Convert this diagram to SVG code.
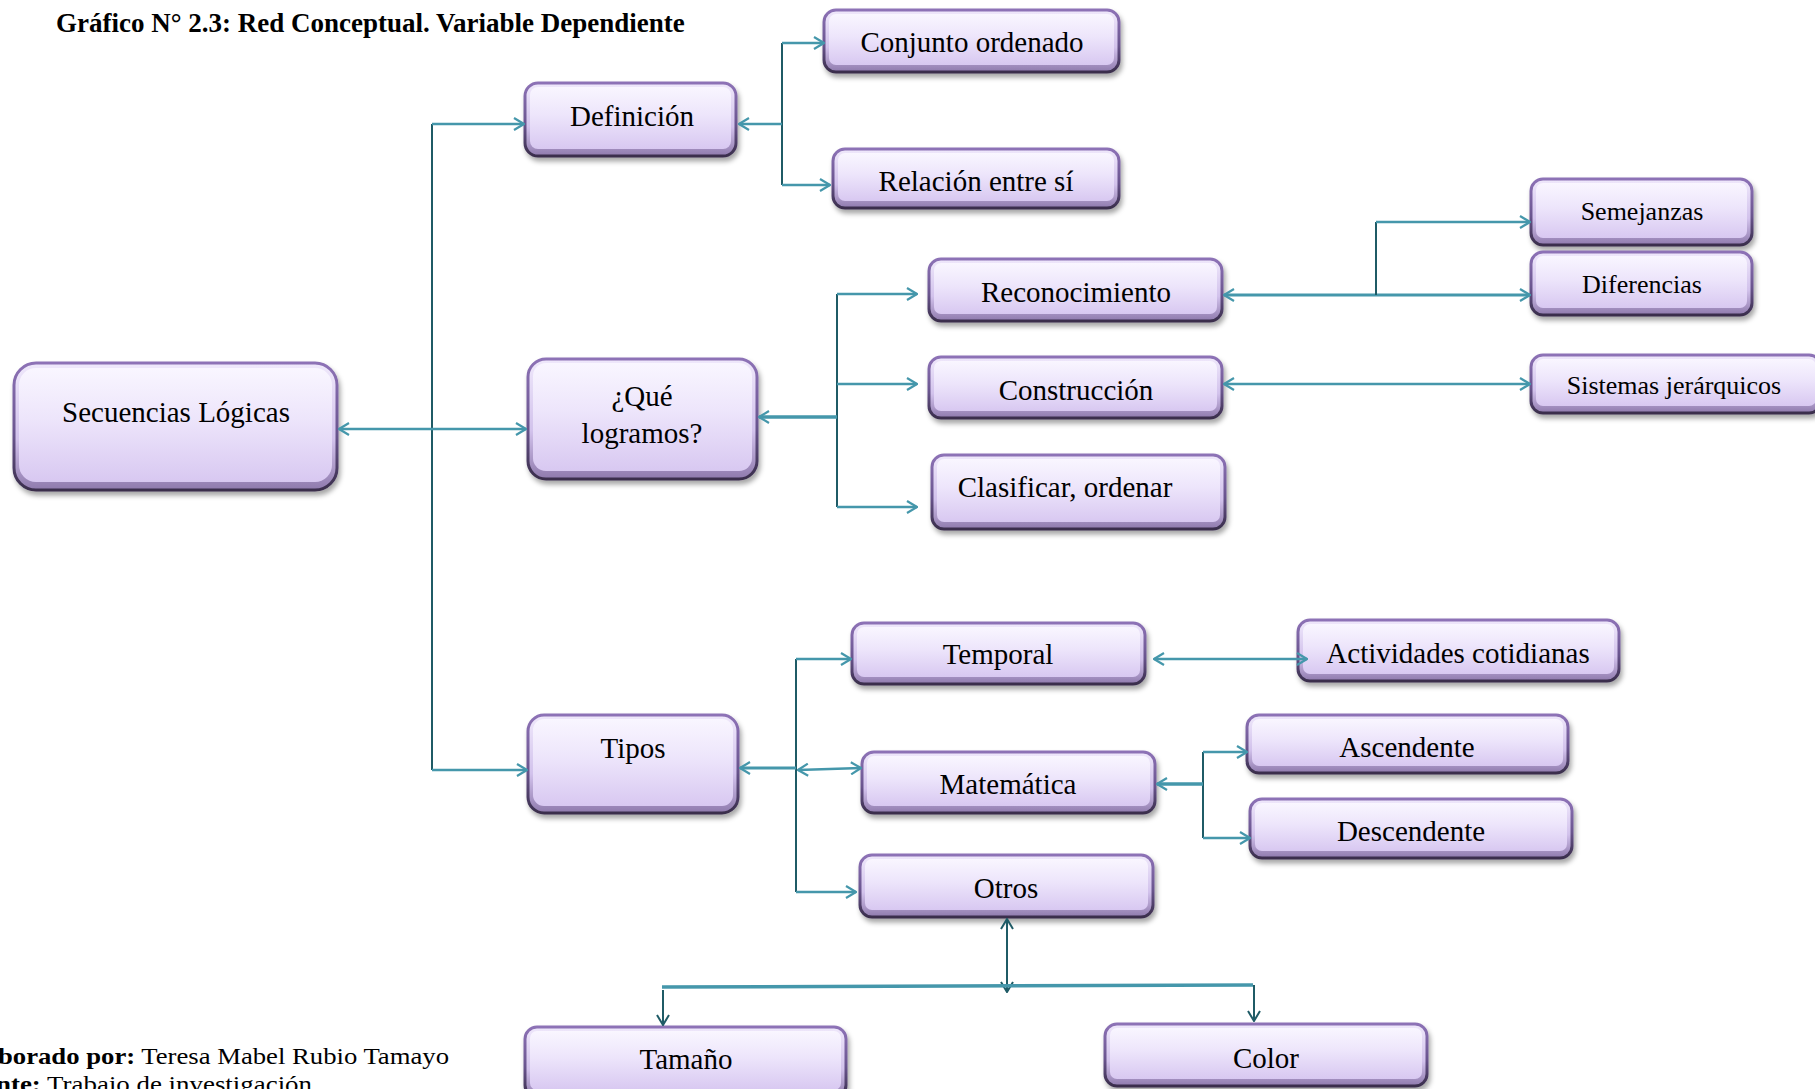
<svg xmlns="http://www.w3.org/2000/svg" width="1815" height="1089" viewBox="0 0 1815 1089">
<defs>
<linearGradient id="outerG" x1="0" y1="0" x2="0" y2="1">
<stop offset="0" stop-color="#efe8fb"/>
<stop offset="0.6" stop-color="#d2c2ec"/>
<stop offset="1" stop-color="#8f7aad"/>
</linearGradient>
<linearGradient id="fillG" x1="0" y1="0" x2="0" y2="1">
<stop offset="0" stop-color="#f9f6ff"/>
<stop offset="0.45" stop-color="#ede5fb"/>
<stop offset="1" stop-color="#d8c8f1"/>
</linearGradient>
<linearGradient id="strokeG" x1="0" y1="0" x2="0" y2="1">
<stop offset="0" stop-color="#8d72b6"/>
<stop offset="0.55" stop-color="#6b5690"/>
<stop offset="1" stop-color="#3a2e4c"/>
</linearGradient>
<filter id="sh" x="-10%" y="-20%" width="130%" height="170%">
<feDropShadow dx="2" dy="4" stdDeviation="2.5" flood-color="#000" flood-opacity="0.35"/>
</filter>
<marker id="ah" viewBox="0 0 12 14" refX="11" refY="7" markerWidth="12" markerHeight="14" markerUnits="userSpaceOnUse" orient="auto-start-reverse">
<path d="M1,1 L11,7 L1,13" fill="none" stroke="#4597ab" stroke-width="2.2"/>
</marker>
<marker id="ahd" viewBox="0 0 12 14" refX="11" refY="7" markerWidth="12" markerHeight="14" markerUnits="userSpaceOnUse" orient="auto-start-reverse">
<path d="M1,1 L11,7 L1,13" fill="none" stroke="#1f5b66" stroke-width="2"/>
</marker>
</defs>
<style>
.box{fill:url(#outerG);stroke:url(#strokeG);stroke-width:3;filter:url(#sh)}
.in{fill:url(#fillG);stroke:none}
.t{font-family:"Liberation Serif","Times New Roman",serif;font-size:29px;fill:#000;text-anchor:middle}
.ts{font-family:"Liberation Serif","Times New Roman",serif;font-size:26px;fill:#000;text-anchor:middle}
.h{fill:none;stroke:#4597ab;stroke-width:2.5}
.v{fill:none;stroke:#1f5b66;stroke-width:2}
.title{font-family:"Liberation Serif","Times New Roman",serif;font-size:27px;font-weight:bold;fill:#000}
.foot{font-family:"Liberation Serif","Times New Roman",serif;font-size:24px;fill:#000}
</style>
<rect width="1815" height="1089" fill="#ffffff"/>
<text class="title" x="56" y="32">Gráfico N° 2.3: Red Conceptual. Variable Dependiente</text>

<g id="n-secuencias"><rect class="box" x="14" y="363" width="323" height="127" rx="22"/><rect class="in" x="19" y="368" width="313" height="114" rx="17"/><text class="t" x="176" y="422">Secuencias Lógicas</text></g>
<g id="n-definicion"><rect class="box" x="525" y="83" width="211" height="73" rx="13"/><rect class="in" x="530" y="87" width="201" height="62" rx="8"/><text class="t" x="632" y="126">Definición</text></g>
<g id="n-conjunto"><rect class="box" x="824" y="10" width="295" height="62" rx="12"/><rect class="in" x="829" y="14" width="285" height="51" rx="7"/><text class="t" x="972" y="52">Conjunto ordenado</text></g>
<g id="n-relacion"><rect class="box" x="833" y="149" width="286" height="59" rx="12"/><rect class="in" x="838" y="153" width="276" height="48" rx="7"/><text class="t" x="976" y="191">Relación entre sí</text></g>
<g id="n-que"><rect class="box" x="528" y="359" width="229" height="120" rx="18"/><rect class="in" x="533" y="363" width="219" height="108" rx="13"/><text class="t" x="642" y="406">¿Qué</text><text class="t" x="642" y="443">logramos?</text></g>
<g id="n-reconocimiento"><rect class="box" x="929" y="259" width="293" height="62" rx="12"/><rect class="in" x="934" y="263" width="283" height="51" rx="7"/><text class="t" x="1076" y="302">Reconocimiento</text></g>
<g id="n-construccion"><rect class="box" x="929" y="357" width="293" height="61" rx="12"/><rect class="in" x="934" y="361" width="283" height="50" rx="7"/><text class="t" x="1076" y="400">Construcción</text></g>
<g id="n-clasificar"><rect class="box" x="932" y="455" width="293" height="74" rx="12"/><rect class="in" x="937" y="459" width="283" height="63" rx="7"/><text class="t" x="1065" y="497">Clasificar, ordenar</text></g>
<g id="n-semejanzas"><rect class="box" x="1531" y="179" width="221" height="66" rx="12"/><rect class="in" x="1536" y="183" width="211" height="55" rx="7"/><text class="ts" x="1642" y="220">Semejanzas</text></g>
<g id="n-diferencias"><rect class="box" x="1531" y="252" width="221" height="63" rx="12"/><rect class="in" x="1536" y="256" width="211" height="52" rx="7"/><text class="ts" x="1642" y="293">Diferencias</text></g>
<g id="n-sistemas"><rect class="box" x="1531" y="355" width="290" height="58" rx="12"/><rect class="in" x="1536" y="359" width="280" height="47" rx="7"/><text class="ts" x="1674" y="394">Sistemas jerárquicos</text></g>
<g id="n-tipos"><rect class="box" x="528" y="715" width="210" height="98" rx="16"/><rect class="in" x="533" y="719" width="200" height="87" rx="11"/><text class="t" x="633" y="758">Tipos</text></g>
<g id="n-temporal"><rect class="box" x="852" y="623" width="293" height="61" rx="12"/><rect class="in" x="857" y="627" width="283" height="50" rx="7"/><text class="t" x="998" y="664">Temporal</text></g>
<g id="n-actividades"><rect class="box" x="1298" y="620" width="321" height="61" rx="12"/><rect class="in" x="1303" y="624" width="311" height="50" rx="7"/><text class="t" x="1458" y="663">Actividades cotidianas</text></g>
<g id="n-matematica"><rect class="box" x="862" y="752" width="293" height="61" rx="12"/><rect class="in" x="867" y="756" width="283" height="50" rx="7"/><text class="t" x="1008" y="794">Matemática</text></g>
<g id="n-ascendente"><rect class="box" x="1247" y="715" width="321" height="58" rx="12"/><rect class="in" x="1252" y="719" width="311" height="47" rx="7"/><text class="t" x="1407" y="757">Ascendente</text></g>
<g id="n-descendente"><rect class="box" x="1250" y="799" width="322" height="59" rx="12"/><rect class="in" x="1255" y="803" width="312" height="48" rx="7"/><text class="t" x="1411" y="841">Descendente</text></g>
<g id="n-otros"><rect class="box" x="860" y="855" width="293" height="62" rx="12"/><rect class="in" x="865" y="859" width="283" height="51" rx="7"/><text class="t" x="1006" y="898">Otros</text></g>
<g id="n-tamano"><rect class="box" x="525" y="1027" width="321" height="70" rx="12"/><rect class="in" x="530" y="1031" width="311" height="59" rx="7"/><text class="t" x="686" y="1069">Tamaño</text></g>
<g id="n-color"><rect class="box" x="1105" y="1024" width="322" height="62" rx="12"/><rect class="in" x="1110" y="1028" width="312" height="51" rx="7"/><text class="t" x="1266" y="1068">Color</text></g>

<g id="connectors">
<line class="v" x1="432" y1="124" x2="432" y2="770"/>
<line class="h" x1="339" y1="429" x2="526" y2="429" marker-start="url(#ah)" marker-end="url(#ah)"/>
<line class="h" x1="432" y1="124" x2="524" y2="124" marker-end="url(#ah)"/>
<line class="h" x1="432" y1="770" x2="527" y2="770" marker-end="url(#ah)"/>

<line class="v" x1="782" y1="43" x2="782" y2="185"/>
<line class="h" x1="782" y1="124" x2="739" y2="124" marker-end="url(#ah)"/>
<line class="h" x1="782" y1="43" x2="824" y2="43" marker-end="url(#ah)"/>
<line class="h" x1="782" y1="185" x2="830" y2="185" marker-end="url(#ah)"/>

<line class="v" x1="837" y1="294" x2="837" y2="507"/>
<line class="h" x1="837" y1="417" x2="759" y2="417" marker-end="url(#ah)" style="stroke-width:3.5"/>
<line class="h" x1="837" y1="294" x2="917" y2="294" marker-end="url(#ah)"/>
<line class="h" x1="837" y1="384" x2="917" y2="384" marker-end="url(#ah)"/>
<line class="h" x1="837" y1="507" x2="917" y2="507" marker-end="url(#ah)"/>

<line class="h" x1="1224" y1="295" x2="1530" y2="295" marker-start="url(#ah)" marker-end="url(#ah)" style="stroke-width:3"/>
<line class="v" x1="1376" y1="222" x2="1376" y2="295"/>
<line class="h" x1="1376" y1="222" x2="1530" y2="222" marker-end="url(#ah)"/>
<line class="h" x1="1224" y1="384" x2="1530" y2="384" marker-start="url(#ah)" marker-end="url(#ah)"/>

<line class="v" x1="796" y1="659" x2="796" y2="892"/>
<line class="h" x1="796" y1="768" x2="740" y2="768" marker-end="url(#ah)" style="stroke-width:3"/>
<line class="h" x1="798" y1="770" x2="861" y2="768" marker-start="url(#ah)" marker-end="url(#ah)"/>
<line class="h" x1="796" y1="659" x2="851" y2="659" marker-end="url(#ah)"/>
<line class="h" x1="796" y1="892" x2="856" y2="892" marker-end="url(#ah)"/>

<line class="h" x1="1154" y1="659" x2="1307" y2="659" marker-start="url(#ah)" marker-end="url(#ah)"/>

<line class="v" x1="1203" y1="752" x2="1203" y2="838"/>
<line class="h" x1="1203" y1="784" x2="1157" y2="784" marker-end="url(#ah)" style="stroke-width:3.5"/>
<line class="h" x1="1203" y1="752" x2="1247" y2="752" marker-end="url(#ah)"/>
<line class="h" x1="1203" y1="838" x2="1250" y2="838" marker-end="url(#ah)"/>

<line class="v" x1="1007" y1="919" x2="1007" y2="992" marker-start="url(#ahd)" marker-end="url(#ahd)"/>
<line class="h" x1="662" y1="987" x2="1253" y2="985" style="stroke-width:3.5"/>
<line class="v" x1="663" y1="990" x2="663" y2="1025" marker-end="url(#ahd)"/>
<line class="v" x1="1254" y1="985" x2="1254" y2="1021" marker-end="url(#ahd)"/>
</g>

<text class="foot" x="-2" y="1064" textLength="451" lengthAdjust="spacingAndGlyphs"><tspan font-weight="bold">borado por:</tspan> Teresa Mabel Rubio Tamayo</text>
<text class="foot" x="-4" y="1092" textLength="316" lengthAdjust="spacingAndGlyphs"><tspan font-weight="bold">nte:</tspan> Trabajo de investigación</text>
</svg>
